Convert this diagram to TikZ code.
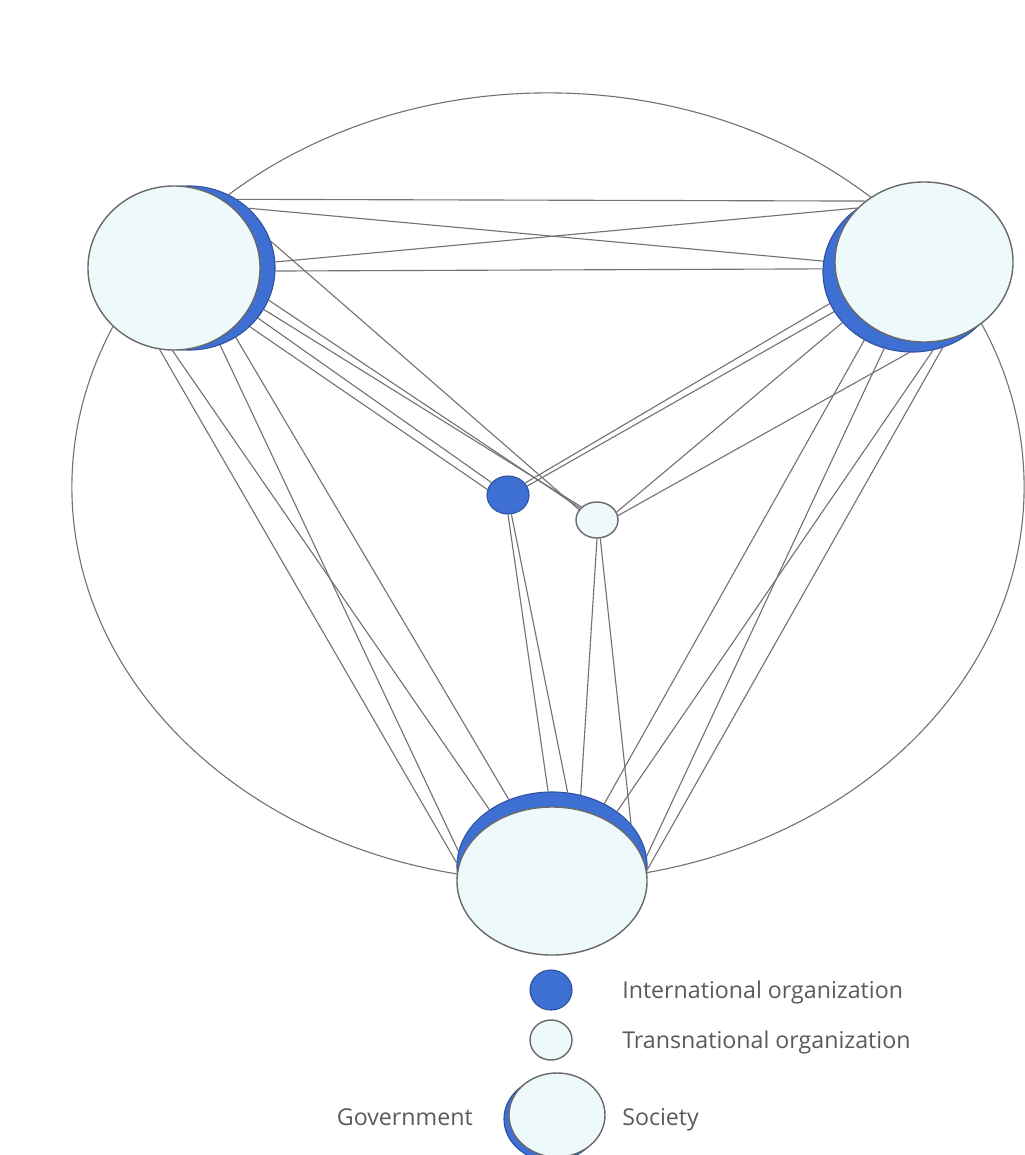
\documentclass[tikz,border=0pt]{standalone}
\usepackage{fontspec}
\setmainfont{Open Sans}
\usetikzlibrary{shapes.geometric,backgrounds}

\definecolor{govblue}{RGB}{62,112,212}
\definecolor{socfill}{RGB}{238,249,252}
\definecolor{rim}{RGB}{105,105,105}
\definecolor{keytext}{RGB}{90,90,90}

\begin{document}
\begin{tikzpicture}[
    x=0.025cm, y=-0.025cm,
    gov/.style={
        ellipse, inner sep=0pt,
        fill=govblue, draw=govblue!75!black, line width=0.8pt
    },
    soc/.style={
        ellipse, inner sep=0pt,
        fill=socfill, draw=rim, line width=1pt
    },
    tie/.style={draw=black!55, line width=0.8pt},
    ring/.style={draw=black!55, line width=0.8pt},
    key/.style={font=\fontsize{16.5}{19}\selectfont, text=keytext, inner sep=0pt}
]
\useasboundingbox (0,0) rectangle (1024,1155);

% Left state: government behind, society in front
\node[gov, minimum width=4.3cm, minimum height=4.1cm] (govl) at (189,268) {};
\node[soc, minimum width=4.3cm, minimum height=4.1cm] (socl) at (174,268) {};

% Right state
\node[gov, minimum width=4.45cm, minimum height=4.0cm] (govr) at (912,272) {};
\node[soc, minimum width=4.45cm, minimum height=4.0cm] (socr) at (924,262) {};

% Bottom state
\node[gov, minimum width=4.75cm, minimum height=3.7cm] (govb) at (552,866) {};
\node[soc, minimum width=4.75cm, minimum height=3.7cm] (socb) at (552,881) {};

% Organizations
\node[gov, minimum width=1.05cm, minimum height=0.95cm] (io) at (508,495) {};
\node[soc, minimum width=1.05cm, minimum height=0.9cm] (tno) at (597,520) {};

% Ties
\begin{scope}[on background layer]
\draw[ring] (548,487) ellipse [x radius=11.9cm, y radius=9.85cm];

% left - right
\draw[tie] (govl.55) -- (socr.134);
\draw[tie] (govl.45) -- (govr.173);
\draw[tie] (govl.4)  -- (socr.141);
\draw[tie] (govl.358) -- (govr.178);

% left - bottom
\draw[tie] (socl.260) -- (govb.178);
\draw[tie] (socl.269) -- (govb.138);
\draw[tie] (govl.292) -- (govb.171);
\draw[tie] (govl.304) -- (govb.123);

% right - bottom
\draw[tie] (govr.235) -- (govb.50);
\draw[tie] (govr.250) -- (govb.6);
\draw[tie] (govr.285) -- (govb.40);
\draw[tie] (govr.292) -- (govb.358);

% organizations
\draw[tie] (govl.18)  -- (tno.150);
\draw[tie] (govl.338) -- (tno.145);
\draw[tie] (govl.331) -- (tno.140);
\draw[tie] (govl.324) -- (io.143);
\draw[tie] (govl.316) -- (io.165);
\draw[tie] (govr.201) -- (io.35);
\draw[tie] (govr.207) -- (io.25);
\draw[tie] (govr.216) -- (tno.22);
\draw[tie] (govr.268) -- (tno.12);
\draw[tie] (io.270)  -- (govb.93);
\draw[tie] (io.280)  -- (govb.78);
\draw[tie] (tno.270) -- (govb.68);
\draw[tie] (tno.280) -- (govb.28);
\end{scope}

% Key
\node[gov, minimum width=1.05cm, minimum height=1cm] (keyio) at (551,990) {};
\node[soc, minimum width=1.05cm, minimum height=1cm] (keytno) at (551,1040) {};
\node[gov, minimum width=2.4cm, minimum height=2.1cm] (keygov) at (552,1119) {};
\node[soc, minimum width=2.4cm, minimum height=2.1cm] (keysoc) at (557,1115) {};

\node[key, anchor=base west] (lblio) at (622,998) {International organization};
\node[key, anchor=base west] (lbltno) at (622,1048) {Transnational organization};
\node[key, anchor=base west] (lblsoc) at (622,1125) {Society};
\node[key, anchor=base east] (lblgov) at (473,1125) {Government};
\end{tikzpicture}
\end{document}
